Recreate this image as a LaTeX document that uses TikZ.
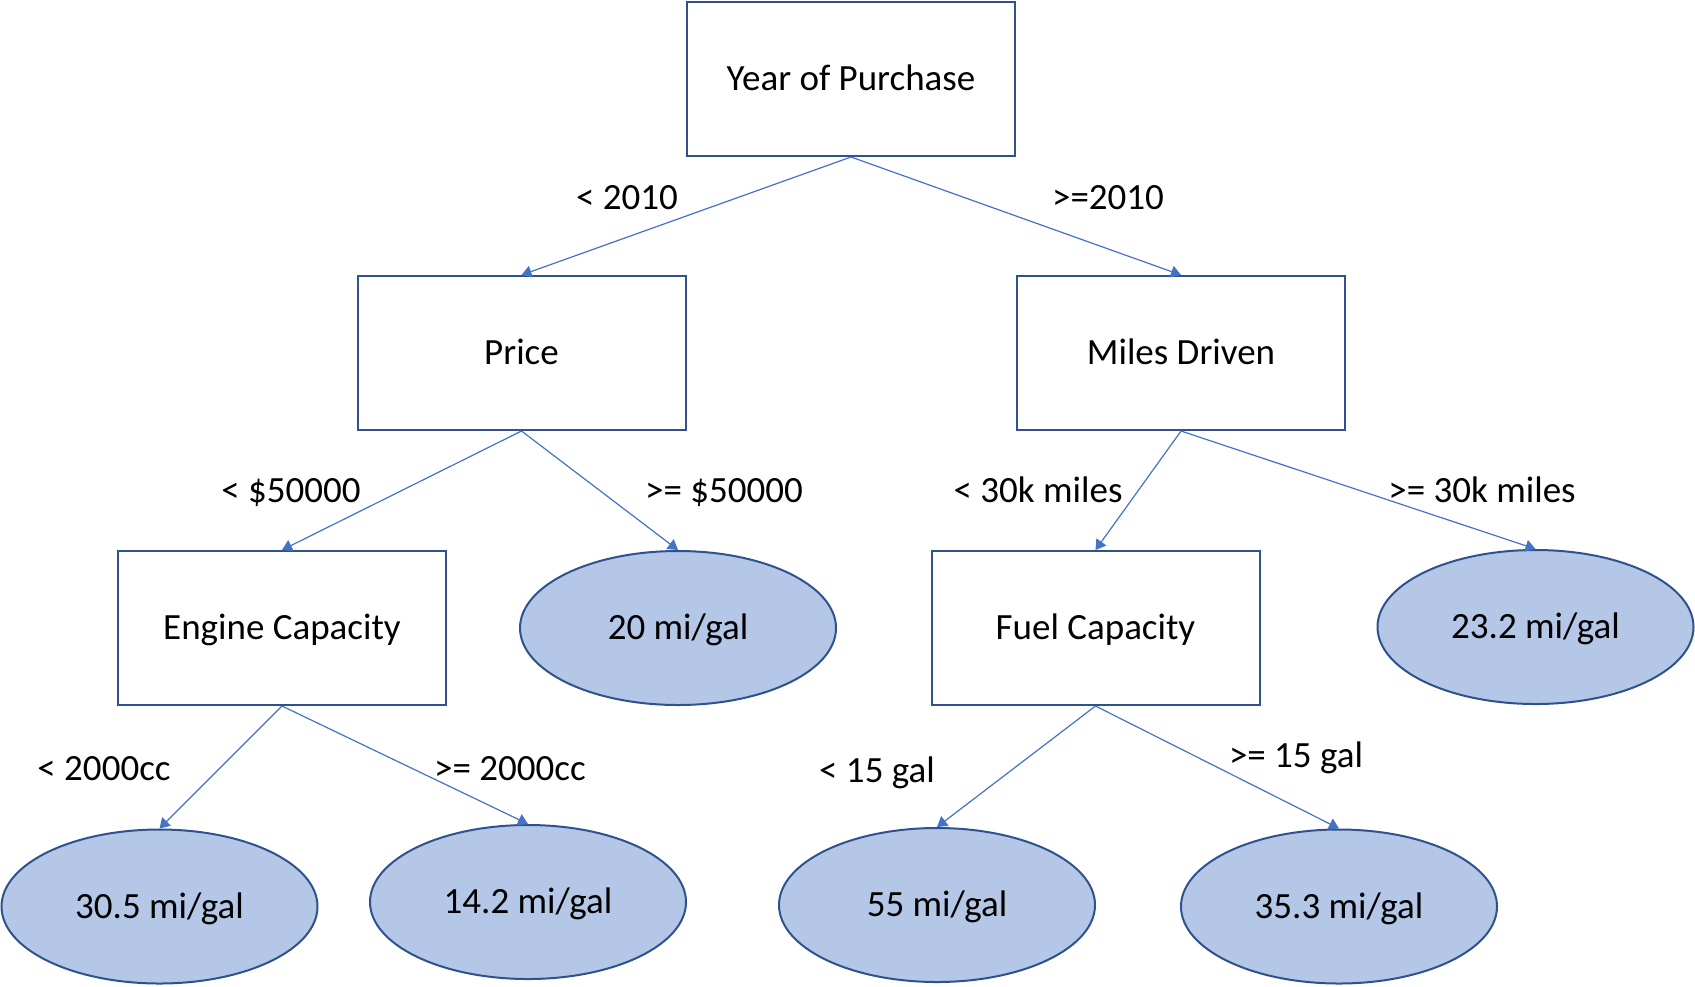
\documentclass[tikz,border=0pt]{standalone}
\usepackage{fontspec}
\setmainfont{Carlito}
\usetikzlibrary{shapes.geometric,arrows.meta}
\definecolor{boxline}{HTML}{2F528F}
\definecolor{leaffill}{HTML}{B4C7E7}
\definecolor{arrowc}{HTML}{4472C4}
\begin{document}
\begin{tikzpicture}[x=0.5pt,y=-0.5pt,
  every node/.style={font=\fontsize{18.5pt}{22pt}\selectfont},
  splitbox/.style={draw=boxline,line width=1pt,rectangle,minimum width=164pt,minimum height=77pt,inner sep=0pt,text height=14.5pt,text depth=3pt},
  leaf/.style={draw=boxline,fill=leaffill,line width=1pt,ellipse,minimum width=158pt,minimum height=77pt,inner sep=0pt,text height=14.5pt,text depth=3pt},
  conn/.style={draw=arrowc,line width=0.6pt,-{Triangle[width=6pt,length=5pt]}},
  lbl/.style={inner sep=0pt,text height=14.5pt,text depth=3pt}]
\useasboundingbox (0,0) rectangle (1695,986);
\node[splitbox] (year) at (851,79) {Year of Purchase};
\node[splitbox] (price) at (521.5,353) {Price};
\node[splitbox] (miles) at (1181,353) {Miles Driven};
\node[splitbox] (engine) at (282,628) {Engine Capacity};
\node[splitbox] (fuel) at (1095.5,628) {Fuel Capacity};
\node[leaf] (l20) at (678,628) {20 mi/gal};
\node[leaf] (l232) at (1535.5,627) {23.2 mi/gal};
\node[leaf] (l305) at (159.5,906.5) {30.5 mi/gal};
\node[leaf] (l142) at (528,902) {14.2 mi/gal};
\node[leaf] (l55) at (937,905) {55 mi/gal};
\node[leaf] (l353) at (1339,906.5) {35.3 mi/gal};
\draw[conn] (year.south) -- (price.north);
\draw[conn] (year.south) -- (miles.north);
\draw[conn] (price.south) -- (engine.north);
\draw[conn] (price.south) -- (l20.north);
\draw[conn] (miles.south) -- (fuel.north);
\draw[conn] (miles.south) -- (l232.north);
\draw[conn] (engine.south) -- (l305.north);
\draw[conn] (engine.south) -- (l142.north);
\draw[conn] (fuel.south) -- (l55.north);
\draw[conn] (fuel.south) -- (l353.north);
\node[lbl] (t1) at (627,198) {< 2010};
\node[lbl] (t2) at (1108,198) {>=2010};
\node[lbl] (t3) at (291,491) {< \$50000};
\node[lbl] (t4) at (724,491) {>= \$50000};
\node[lbl] (t5) at (1038,491) {< 30k miles};
\node[lbl] (t6) at (1482,491) {>= 30k miles};
\node[lbl] (t7) at (104,769) {< 2000cc};
\node[lbl] (t8) at (510,769) {>= 2000cc};
\node[lbl] (t9) at (877,771) {< 15 gal};
\node[lbl] (t10) at (1296,756) {>= 15 gal};
\end{tikzpicture}
\end{document}
